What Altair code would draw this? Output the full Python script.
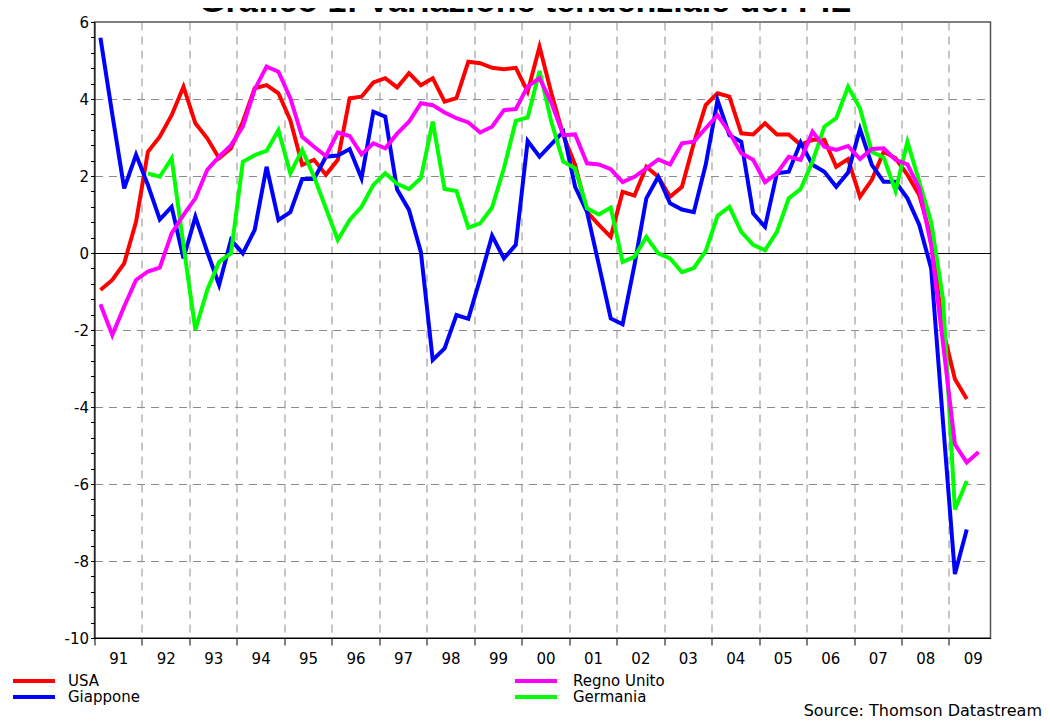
import altair as alt
import pandas as pd

# ---- data (quarterly, from 1991Q1) ----
year_starts = list(range(1991, 2010))
year_labels = ["91", "92", "93", "94", "95", "96", "97", "98", "99", "00",
               "01", "02", "03", "04", "05", "06", "07", "08", "09"]

usa = [-0.96, -0.70, -0.27, 0.81, 2.63, 3.02, 3.58, 4.32, 3.37, 2.98, 2.46, 2.72,
       3.41, 4.28, 4.36, 4.15, 3.45, 2.29, 2.42, 2.03, 2.42, 4.02, 4.06, 4.43,
       4.54, 4.30, 4.67, 4.36, 4.54, 3.93, 4.02, 4.97, 4.93, 4.81, 4.77, 4.81,
       4.19, 5.36, 4.15, 3.06, 2.29, 1.07, 0.73, 0.42, 1.59, 1.49, 2.24, 1.98,
       1.46, 1.72, 2.85, 3.84, 4.15, 4.06, 3.11, 3.08, 3.37, 3.08, 3.08, 2.81,
       2.94, 2.94, 2.24, 2.44, 1.46, 1.90, 2.63, 2.46, 2.03, 1.50, 0.40, -2.00,
       -3.27, -3.79]

regno_unito = [-1.33, -2.13, -1.39, -0.70, -0.48, -0.38, 0.51, 0.99, 1.42, 2.16, 2.50, 2.80,
               3.28, 4.25, 4.84, 4.71, 4.02, 3.02, 2.76, 2.52, 3.13, 3.04, 2.56, 2.85,
               2.72, 3.10, 3.41, 3.89, 3.84, 3.65, 3.50, 3.39, 3.13, 3.28, 3.71, 3.74,
               4.32, 4.54, 3.90, 3.06, 3.08, 2.33, 2.30, 2.18, 1.84, 1.98, 2.20, 2.43,
               2.30, 2.85, 2.89, 3.24, 3.58, 3.13, 2.59, 2.42, 1.84, 2.07, 2.50, 2.42,
               3.15, 2.76, 2.68, 2.78, 2.44, 2.70, 2.72, 2.42, 2.30, 1.68, 0.20, -2.35,
               -4.97, -5.44, -5.17]

giappone = [5.59, 3.60, 1.68, 2.55, 1.77, 0.87, 1.20, -0.14, 0.94, 0.03, -0.83, 0.34,
            -0.01, 0.60, 2.24, 0.86, 1.06, 1.92, 1.92, 2.50, 2.53, 2.70, 1.94, 3.67,
            3.54, 1.65, 1.12, 0.03, -2.78, -2.48, -1.61, -1.71, -0.66, 0.45, -0.14, 0.21,
            2.91, 2.50, 2.83, 3.15, 1.72, 1.07, -0.31, -1.70, -1.85, -0.31, 1.42, 1.98,
            1.29, 1.13, 1.06, 2.29, 3.97, 3.06, 2.89, 1.03, 0.68, 2.07, 2.11, 2.87,
            2.29, 2.11, 1.72, 2.09, 3.22, 2.29, 1.85, 1.85, 1.42, 0.73, -0.40, -4.40,
            -8.34, -7.18]

germania = [None, None, None, None, 2.07, 1.98, 2.46, 0.20, -2.00, -0.96, -0.23, -0.01,
            2.37, 2.54, 2.65, 3.19, 2.07, 2.68, 1.98, 1.16, 0.34, 0.86, 1.20, 1.77,
            2.07, 1.80, 1.66, 1.94, 3.41, 1.66, 1.61, 0.66, 0.77, 1.18, 2.20, 3.43,
            3.52, 4.73, 3.40, 2.37, 2.20, 1.16, 1.00, 1.18, -0.23, -0.10, 0.42, -0.01,
            -0.14, -0.50, -0.39, 0.05, 0.97, 1.20, 0.55, 0.21, 0.07, 0.55, 1.42, 1.66,
            2.37, 3.28, 3.50, 4.32, 3.76, 2.63, 2.48, 1.61, 2.89, 1.85, 0.81, -1.20,
            -6.66, -5.92]

series_names = ["USA", "Giappone", "Regno Unito", "Germania"]
series_colors = ["#FF0000", "#0000FF", "#FF00FF", "#00FF00"]
draw_order = [("USA", usa), ("Giappone", giappone), ("Germania", germania),
              ("Regno Unito", regno_unito)]

title_text = "Grafico 1: Variazione tendenziale del PIL"
source_text = "Source: Thomson Datastream"

rows = []
for name, vals in draw_order:
    for k, v in enumerate(vals):
        if v is not None:
            rows.append({"t": 1991 + (k + 0.5) / 4, "v": v, "paese": name})
df = pd.DataFrame(rows)

# axis tick positions
x_vals = [float(y) for y in year_starts] + [y + 0.5 for y in year_starts]
y_vals = [round(-10 + 0.4 * k, 1) for k in range(41)]

lbl_arr = "[" + ",".join("'%s'" % s for s in year_labels) + "]"
x_label_expr = "(datum.value %% 1) > 0.25 ? %s[floor(datum.value) - 1991] : ''" % lbl_arr
is_boundary = "(datum.value % 1) < 0.25"
is_grid_x = "(datum.value % 1) < 0.25 && datum.value > 1991.5"
is_even = "abs(datum.value/2 - round(datum.value/2)) < 0.001"
is_grid_y = is_even + " && datum.value > -9.5 && datum.value < 5.5"

FONT = "DejaVu Sans"
color_scale = alt.Scale(domain=series_names, range=series_colors)

x_axis = alt.Axis(
    values=x_vals, title=None, labelExpr=x_label_expr,
    tickOpacity={"condition": {"test": is_boundary, "value": 1}, "value": 0},
    tickSize=7, tickColor="black", domainColor="black", labelColor="black",
    labelFont=FONT, labelFontSize=15, labelPadding=6, labelOverlap=False,
    labelAngle=0, labelAlign="center",
    grid=True, gridColor="#8c8c8c", gridDash=[8, 6], gridWidth=1,
    gridOpacity={"condition": {"test": is_grid_x, "value": 1}, "value": 0},
)
y_axis = alt.Axis(
    values=y_vals, title=None,
    labelExpr="%s ? datum.value : ''" % is_even,
    tickSize=4, tickColor="black", domainColor="black", labelColor="black",
    labelFont=FONT, labelFontSize=15, labelPadding=2, labelOverlap=False,
    grid=True, gridWidth=1,
    gridColor={"condition": {"test": "datum.value == 0", "value": "black"}, "value": "#8c8c8c"},
    gridDash={"condition": {"test": "datum.value == 0", "value": [1, 0]}, "value": [8, 6]},
    gridOpacity={"condition": {"test": is_grid_y, "value": 1}, "value": 0},
)

lines = alt.Chart(df).mark_line(strokeWidth=4).encode(
    x=alt.X("t:Q", scale=alt.Scale(domain=[1991, 2009.875], nice=False, zero=False), axis=x_axis),
    y=alt.Y("v:Q", scale=alt.Scale(domain=[-10, 6], nice=False), axis=y_axis),
    color=alt.Color("paese:N", scale=color_scale, legend=None),
)

# ---- legend (two columns, row-major: USA, Regno Unito / Giappone, Germania) ----
legend_df = pd.DataFrame({
    "paese": ["USA", "Regno Unito", "Giappone", "Germania"],
    "x0": [-81.5, 420.5, -81.5, 420.5],
    "x1": [-39.5, 462.5, -39.5, 462.5],
    "tx": [-26.5, 478.5, -26.5, 478.5],
    "ly": [659, 659, 675, 675],
})
leg_rules = alt.Chart(legend_df).mark_rule(strokeWidth=4).encode(
    x=alt.X("x0:Q", scale=None), x2="x1:Q", y=alt.Y("ly:Q", scale=None),
    color=alt.Color("paese:N", scale=color_scale, legend=None),
)
leg_text = alt.Chart(legend_df).mark_text(
    font=FONT, fontSize=15, align="left", baseline="middle", color="black",
).encode(x=alt.X("tx:Q", scale=None), y=alt.Y("ly:Q", scale=None), text="paese:N")

title = alt.Chart(pd.DataFrame({"txt": [title_text]})).mark_text(
    font="Liberation Sans", fontSize=34, fontWeight="bold", align="center",
    baseline="alphabetic", color="black",
).encode(text="txt:N", x=alt.value(430.5), y=alt.value(-10))

source = alt.Chart(pd.DataFrame({"txt": [source_text]})).mark_text(
    font=FONT, fontSize=16, align="right", baseline="alphabetic", color="black",
).encode(text="txt:N", x=alt.value(947.5), y=alt.value(694))

chart = alt.layer(lines, leg_rules, leg_text, title, source).properties(
    width=896, height=616,
    autosize=alt.AutoSizeParams(type="none"),
    padding={"left": 86.5, "top": 14, "right": 51.5, "bottom": 81},
).configure_view(stroke="#555555", strokeWidth=1.5)

chart.save("out.html", embed_options={"renderer": "svg", "actions": False})
